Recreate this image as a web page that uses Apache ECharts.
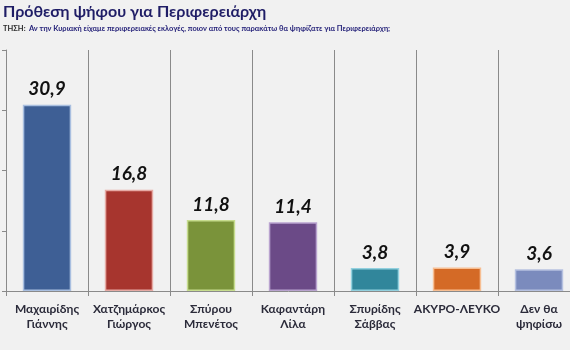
<!DOCTYPE html>
<html>
<head>
<meta charset="utf-8">
<script src="https://cdn.jsdelivr.net/npm/echarts@6/dist/echarts.min.js"></script>
<style>
  html, body { margin: 0; padding: 0; background: #f1f1f1; }
  #chart { width: 570px; height: 350px; }
</style>
</head>
<body>
<div id="chart"></div>
<script>
// Candidates (two-line labels) and vote intention percentages
var categories = [
  'Μαχαιρίδης\nΓιάννης',
  'Χατζημάρκος\nΓιώργος',
  'Σπύρου\nΜπενέτος',
  'Καφαντάρη\nΛίλα',
  'Σπυρίδης\nΣάββας',
  'ΑΚΥΡΟ-ΛΕΥΚΟ',
  'Δεν θα\nψηφίσω'
];
var values = [30.9, 16.8, 11.8, 11.4, 3.8, 3.9, 3.6];
var barColors = ['#3e5f95', '#a7352e', '#7a933a', '#6b4a87', '#31869b', '#d46a26', '#7b8bbd'];
var borderColors = ['#a9bfe0', '#e6aaa4', '#c6dc8e', '#b9a3cf', '#92d0de', '#f7be92', '#b6c1e0'];

var FONT = 'Lato, "Open Sans", sans-serif';

var chart = echarts.init(document.getElementById('chart'), null, { renderer: 'canvas' });

chart.setOption({
  backgroundColor: '#f1f1f1',
  animation: false,
  title: {
    left: 3,
    top: 4,
    padding: 0,
    text: 'Πρόθεση ψήφου για Περιφερειάρχη',
    textStyle: { fontFamily: FONT, fontWeight: 'bold', fontSize: 16, color: '#1f1d66' },
    subtext: '{a|ΤΗΣΗ:} {b|Αν την Κυριακή είχαμε περιφερειακές εκλογές, ποιον από τους παρακάτω θα ψηφίζατε για Περιφερειάρχη;}',
    itemGap: 3,
    subtextStyle: {
      rich: {
        a: { fontFamily: FONT, fontWeight: 'bold', fontSize: 7.5, color: '#2a2a2a' },
        b: { fontFamily: FONT, fontWeight: 'bold', fontSize: 7.5, color: '#26237a' }
      }
    }
  },
  // The plot runs past the right edge of the canvas, so the last column is cut off
  grid: { left: 6, top: 50, right: -10, bottom: 59, containLabel: false, outerBoundsMode: 'none' },
  xAxis: {
    type: 'category',
    data: categories,
    axisLine: { lineStyle: { color: '#8a8a8a', width: 1 } },
    axisTick: { show: true, length: 5, lineStyle: { color: '#8a8a8a' } },
    splitLine: { show: true, lineStyle: { color: '#8a8a8a', width: 1 } },
    axisLabel: {
      interval: 0,
      margin: 11,
      fontFamily: FONT,
      fontWeight: 'bold',
      fontSize: 12,
      lineHeight: 15,
      color: '#2b2b3a'
    }
  },
  yAxis: {
    type: 'value',
    min: 0,
    max: 40,
    interval: 10,
    axisLine: { show: true, lineStyle: { color: '#8a8a8a' } },
    axisTick: { show: true, length: 4, lineStyle: { color: '#8a8a8a' } },
    axisLabel: { show: false },
    splitLine: { show: false }
  },
  series: [{
    type: 'bar',
    barWidth: '59%',
    data: values.map(function (v, i) {
      return {
        value: v,
        itemStyle: { color: barColors[i], borderColor: borderColors[i], borderWidth: 1.5 }
      };
    }),
    label: {
      show: true,
      position: 'top',
      distance: 6,
      fontFamily: FONT,
      fontWeight: 'bold',
      fontStyle: 'italic',
      fontSize: 19,
      color: '#111111',
      formatter: function (p) { return String(p.value).replace('.', ','); }
    }
  }]
});
</script>
</body>
</html>
